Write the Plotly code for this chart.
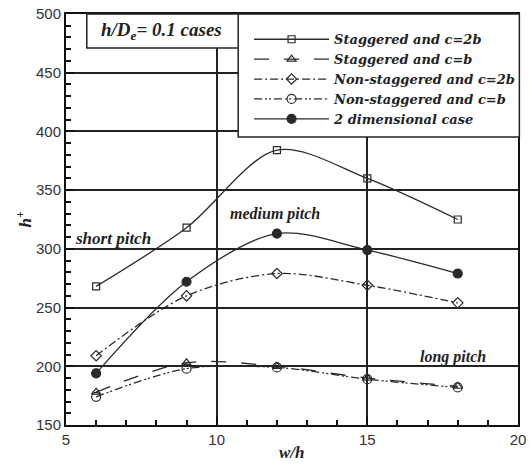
import plotly.graph_objects as go

x_vals = [6, 9, 12, 15, 18]
stag_2b = [268, 318, 384, 360, 325]
stag_b = [178, 203, 200, 190, 183]
nonstag_2b = [209, 260, 279, 269, 254]
nonstag_b = [174, 198, 199, 189, 182]
two_dim = [194, 272, 313, 299, 279]

names = ["Staggered and c=2b", "Staggered and c=b", "Non-staggered and c=2b",
         "Non-staggered and c=b", "2 dimensional case"]
series = [stag_2b, stag_b, nonstag_2b, nonstag_b, two_dim]
dashes = ["solid", "longdash", "8px,3px,2px,3px", "8px,3px,2px,2px,2px,3px", "solid"]
symbols = ["square-open", "triangle-up-open", "diamond-open", "circle-open", "circle"]
msizes = [7, 8, 8, 9, 9]

col = "#2a2a2a"
serif = "Liberation Serif"

fig = go.Figure()
for nm, ys, d, s, ms in zip(names, series, dashes, symbols, msizes):
    fig.add_trace(go.Scatter(
        x=x_vals, y=ys, name=nm, mode="lines+markers",
        line=dict(color=col, width=1.3, dash=d, shape="spline", smoothing=0.9),
        marker=dict(symbol=s, size=ms, color=col, line=dict(color=col, width=1.2)),
    ))

axis_common = dict(
    showline=True, linecolor="#111", linewidth=2, mirror=True,
    ticks="inside", ticklen=8, tickwidth=1.5, tickcolor="#111",
    showgrid=True, gridcolor="#222", gridwidth=1.5,
    zeroline=False, automargin=False,
    tickfont=dict(family="Liberation Sans", size=15, color="#333"),
)

fig.update_xaxes(range=[5, 20], dtick=5, tick0=5,
                 minor=dict(dtick=1, ticks="inside", ticklen=5, tickcolor="#111", showgrid=False),
                 **axis_common)
fig.update_yaxes(range=[150, 500], dtick=50, tick0=150,
                 minor=dict(dtick=10, ticks="inside", ticklen=5, tickcolor="#111", showgrid=False),
                 **axis_common)

# boxes
fig.add_shape(type="rect", xref="paper", yref="paper", x0=0.046, x1=0.385, y0=0.917, y1=1.0,
              fillcolor="white", line=dict(color="#222", width=1.5), layer="above")
fig.add_shape(type="rect", xref="paper", yref="paper", x0=0.381, x1=1.003, y0=0.701, y1=1.0,
              fillcolor="white", line=dict(color="#222", width=1.5), layer="above")

ann_font = dict(family=serif, size=16, color="#222")
fig.add_annotation(xref="paper", yref="paper", x=0.212, y=0.958, xanchor="center", yanchor="middle",
                   showarrow=False,
                   text="<b><i>h/D<sub>e</sub>= 0.1 cases</i></b>", font=dict(family=serif, size=19, color="#222"))
fig.add_annotation(x=6.56, y=309, showarrow=False, text="<b><i>short pitch</i></b>", font=dict(family=serif, size=17, color="#222"))
fig.add_annotation(x=11.95, y=330, showarrow=False, text="<b><i>medium pitch</i></b>", font=ann_font)
fig.add_annotation(x=17.84, y=208, showarrow=False, text="<b><i>long pitch</i></b>", font=ann_font)

# axis titles
fig.add_annotation(xref="paper", yref="paper", x=0.5, y=-0.066, xanchor="center", yanchor="middle",
                   showarrow=False,
                   text="<b><i>w/h</i></b>", font=dict(family=serif, size=17, color="#222"))
fig.add_annotation(xref="paper", yref="paper", x=-0.095, y=0.5, xanchor="center", yanchor="middle",
                   showarrow=False, textangle=-90,
                   text="<b><i>h<sup>+</sup></i></b>", font=dict(family=serif, size=17, color="#222"))

fig.update_layout(
    width=532, height=464,
    margin=dict(l=66, r=14, t=14, b=39, autoexpand=False),
    plot_bgcolor="white", paper_bgcolor="white",
    showlegend=True,
    legend=dict(x=0.405, y=0.975, xanchor="left", yanchor="top",
                bgcolor="rgba(0,0,0,0)", borderwidth=0,
                itemwidth=75,
                font=dict(family="DejaVu Serif", size=13, color="#222", style="italic", weight="bold"),
                tracegroupgap=0),
)

fig.write_html("out.html")
